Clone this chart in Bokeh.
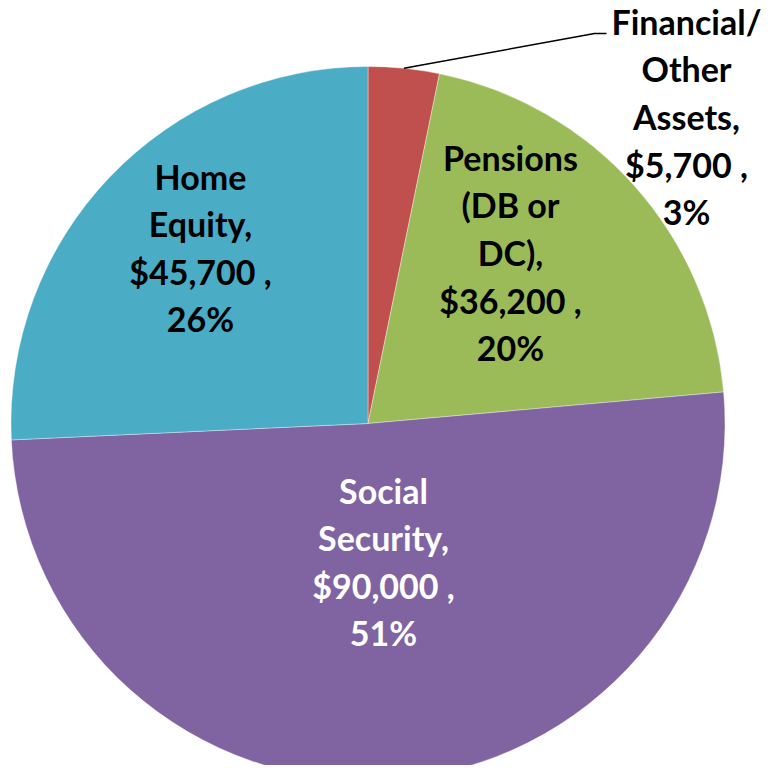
import numpy as np
from bokeh.plotting import figure
from bokeh.models import Range1d, ColumnDataSource
from bokeh.core.properties import value
from bokeh.embed import file_html
from bokeh.resources import INLINE

# ---- data ----
categories = ["Financial/\nOther\nAssets,", "Pensions\n(DB or\nDC),", "Social\nSecurity,", "Home\nEquity,"]
amounts = [5700, 36200, 90000, 45700]
percent_labels = ["3%", "20%", "51%", "26%"]
amount_labels = ["$5,700 ,", "$36,200 ,", "$90,000 ,", "$45,700 ,"]

# ---- style / layout ----
colors = ["#C0504D", "#9BBB59", "#8064A2", "#4BACC6"]
text_colors = ["#000000", "#000000", "#FFFFFF", "#000000"]
H = 781  # screen height used for flipping coordinates
W_FIG, H_FIG = 766, 765
cx, cy, R = 367.5, H - 423, 357
label_x = [686, 510, 383, 200]
label_y = [H - 116, H - 252, H - 561, H - 247]
leader_elbow = [(594, H - 33), (606, H - 33)]

vals = np.array(amounts, dtype=float)
frac = vals / vals.sum()
cum = np.concatenate([[0], np.cumsum(frac)])
start = np.pi / 2 - 2 * np.pi * cum[:-1]
end = np.pi / 2 - 2 * np.pi * cum[1:]
mid = (start + end) / 2

p = figure(width=W_FIG, height=H_FIG, x_range=Range1d(0, W_FIG), y_range=Range1d(H - H_FIG, H),
           output_backend="svg", toolbar_location=None, min_border=0)
p.axis.visible = False
p.grid.visible = False
p.outline_line_color = None
p.background_fill_color = "white"

src = ColumnDataSource(dict(start=start, end=end, color=colors))
p.wedge(x=cx, y=cy, radius=R, start_angle="start", end_angle="end", direction="clock",
        fill_color="color", line_color="white", line_width=0.6, line_alpha=0.6, source=src)

# leader line for the small slice
lx = [cx + R * np.cos(mid[0]), leader_elbow[0][0], leader_elbow[1][0]]
ly = [cy + R * np.sin(mid[0]), leader_elbow[0][1], leader_elbow[1][1]]
p.line(lx, ly, line_color="black", line_width=1.5)

texts = [f"{c}\n{a}\n{pc}" for c, a, pc in zip(categories, amount_labels, percent_labels)]
tsrc = ColumnDataSource(dict(x=label_x, y=label_y, text=texts, color=text_colors))
p.text(x="x", y="y", text="text", text_color="color", source=tsrc,
       text_font=value("Lato"), text_font_style="bold", text_font_size="34px",
       text_align="center", text_baseline="middle", text_line_height=1.16)

open("out.html", "w").write(file_html(p, INLINE))
